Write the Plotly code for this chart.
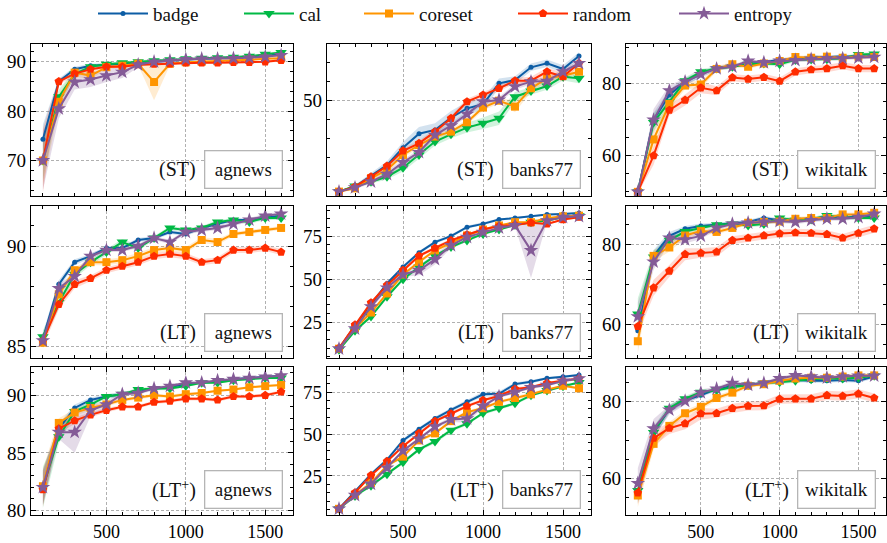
import plotly.graph_objects as go

budget = [100, 200, 300, 400, 500, 600, 700, 800, 900, 1000, 1100, 1200, 1300, 1400, 1500, 1600]
methods = ["badge", "cal", "coreset", "random", "entropy"]
settings = ["ST", "LT", "LT+"]
setting_labels = ["(ST)", "(LT)", "(LT<sup>+</sup>)"]
datasets = ["agnews", "banks77", "wikitalk"]

# ---------------- ST / agnews ----------------
st_agnews_badge = [74.3, 86.0, 88.5, 89.2, 89.4, 89.6, 89.8, 90.0, 90.3, 90.5, 90.6, 90.7, 90.8, 91.0, 91.2, 91.5]
st_agnews_cal = [70.0, 82.9, 87.5, 89.0, 89.5, 89.8, 90.0, 90.2, 90.4, 90.6, 90.7, 90.8, 90.9, 91.1, 91.5, 91.9]
st_agnews_coreset = [70.0, 81.9, 87.8, 87.2, 88.9, 89.2, 89.6, 85.9, 89.6, 89.9, 90.0, 90.1, 90.3, 90.4, 90.6, 90.7]
st_agnews_random = [70.0, 86.0, 87.6, 88.5, 89.0, 89.0, 89.4, 89.5, 89.6, 89.8, 89.8, 89.8, 89.9, 89.9, 90.0, 90.3]
st_agnews_entropy = [70.0, 80.5, 85.9, 86.4, 87.2, 87.9, 89.4, 90.0, 90.2, 90.5, 90.6, 90.6, 90.7, 90.8, 91.0, 91.3]
st_agnews_badge_sd = [3.0, 0.6, 0.5, 0.4, 0.3, 0.3, 0.3, 0.2, 0.2, 0.2, 0.2, 0.2, 0.2, 0.2, 0.2, 0.2]
st_agnews_cal_sd = [4.0, 1.5, 0.8, 0.4, 0.3, 0.3, 0.3, 0.3, 0.2, 0.2, 0.2, 0.2, 0.2, 0.2, 0.3, 0.3]
st_agnews_coreset_sd = [5.0, 1.5, 0.8, 0.8, 0.4, 0.3, 0.3, 3.7, 0.3, 0.2, 0.2, 0.2, 0.2, 0.2, 0.2, 0.2]
st_agnews_random_sd = [6.5, 0.6, 0.5, 0.4, 0.3, 0.3, 0.3, 0.3, 0.2, 0.2, 0.2, 0.2, 0.2, 0.2, 0.2, 0.3]
st_agnews_entropy_sd = [6.0, 2.0, 1.5, 1.5, 1.3, 1.2, 0.5, 0.4, 0.3, 0.3, 0.3, 0.3, 0.3, 0.3, 0.3, 0.3]

# ---------------- ST / banks77 ----------------
st_banks77_badge = [2.2, 4.8, 10.4, 16.1, 25.2, 32.5, 34.5, 40.9, 45.8, 47.9, 58.9, 60.6, 67.3, 69.4, 66.4, 73.2]
st_banks77_cal = [2.2, 5.1, 7.4, 10.0, 14.7, 21.4, 28.4, 32.2, 35.7, 38.0, 40.6, 51.9, 54.9, 57.5, 62.4, 61.5]
st_banks77_coreset = [2.2, 3.9, 9.2, 13.5, 21.4, 26.6, 31.0, 33.6, 38.5, 46.2, 49.8, 46.7, 56.3, 61.5, 62.9, 65.0]
st_banks77_random = [2.2, 4.8, 10.0, 15.6, 23.6, 27.5, 33.6, 40.6, 49.3, 52.8, 56.3, 60.3, 60.3, 65.0, 62.4, 69.4]
st_banks77_entropy = [2.2, 4.3, 7.4, 11.3, 17.5, 22.8, 31.8, 36.7, 42.8, 49.3, 50.2, 57.2, 59.8, 60.1, 65.0, 69.4]
st_banks77_badge_sd = [0.5, 0.8, 1.5, 2.0, 3.0, 3.5, 3.5, 3.5, 3.5, 3.0, 2.5, 2.0, 2.0, 2.0, 2.0, 2.0]
st_banks77_cal_sd = [0.5, 0.8, 1.0, 1.5, 2.0, 2.0, 2.0, 2.0, 2.5, 3.0, 3.5, 2.5, 2.0, 2.0, 2.0, 2.5]
st_banks77_coreset_sd = [0.5, 0.8, 1.0, 1.5, 1.5, 1.5, 1.5, 1.5, 1.5, 1.5, 1.5, 3.0, 2.0, 2.0, 1.5, 1.5]
st_banks77_random_sd = [0.5, 0.8, 1.0, 1.5, 1.5, 1.5, 1.5, 1.5, 1.5, 1.5, 1.5, 1.5, 2.0, 2.0, 2.0, 1.5]
st_banks77_entropy_sd = [0.5, 0.8, 1.0, 1.5, 1.5, 1.5, 1.5, 1.5, 1.5, 1.5, 1.5, 1.5, 1.5, 1.5, 1.5, 1.5]

# ---------------- ST / wikitalk ----------------
st_wikitalk_badge = [50.0, 69.9, 76.8, 80.5, 82.5, 84.3, 84.8, 85.3, 86.0, 86.5, 86.7, 87.4, 87.2, 87.5, 87.3, 87.6]
st_wikitalk_cal = [50.0, 69.2, 74.9, 80.7, 83.2, 84.1, 84.6, 85.3, 85.5, 85.3, 86.5, 86.6, 86.7, 86.9, 88.0, 88.1]
st_wikitalk_coreset = [50.0, 64.5, 74.3, 79.4, 79.7, 84.0, 85.3, 84.6, 85.5, 86.2, 87.3, 87.1, 87.4, 87.1, 87.4, 87.3]
st_wikitalk_random = [50.0, 60.0, 72.6, 75.4, 78.8, 78.0, 81.6, 81.2, 81.7, 80.6, 83.2, 83.8, 84.1, 84.9, 84.1, 84.1]
st_wikitalk_entropy = [50.0, 69.9, 78.0, 80.5, 82.5, 84.1, 84.6, 86.2, 85.8, 86.2, 86.4, 86.7, 86.9, 86.9, 87.1, 87.3]
st_wikitalk_badge_sd = [0.5, 2.0, 1.5, 1.0, 0.8, 0.6, 0.5, 0.5, 0.5, 0.5, 0.5, 0.5, 0.5, 0.5, 0.5, 0.5]
st_wikitalk_cal_sd = [0.5, 2.5, 1.5, 1.0, 0.8, 0.6, 0.5, 0.5, 0.5, 0.6, 0.5, 0.5, 0.5, 0.5, 0.5, 0.5]
st_wikitalk_coreset_sd = [0.5, 2.5, 1.5, 1.0, 1.0, 0.8, 0.6, 0.6, 0.5, 0.5, 0.5, 0.5, 0.5, 0.5, 0.5, 0.5]
st_wikitalk_random_sd = [0.5, 2.5, 1.5, 1.5, 1.5, 1.2, 1.0, 1.0, 1.0, 1.0, 1.0, 1.0, 1.0, 1.0, 1.0, 1.0]
st_wikitalk_entropy_sd = [0.5, 3.0, 1.5, 1.0, 0.8, 0.6, 0.5, 0.5, 0.5, 0.5, 0.5, 0.5, 0.5, 0.5, 0.5, 0.5]

# ---------------- LT / agnews ----------------
lt_agnews_badge = [85.4, 88.1, 89.2, 89.5, 89.9, 89.9, 90.3, 90.4, 90.7, 90.6, 90.9, 91.1, 91.3, 91.3, 91.4, 91.5]
lt_agnews_cal = [85.5, 87.2, 88.6, 89.2, 89.7, 90.2, 89.9, 90.4, 90.9, 90.8, 90.9, 91.2, 91.3, 91.2, 91.4, 91.4]
lt_agnews_coreset = [85.2, 87.6, 88.8, 89.2, 89.2, 89.3, 89.5, 89.8, 89.9, 89.8, 90.3, 90.2, 90.6, 90.7, 90.8, 90.9]
lt_agnews_random = [85.3, 87.1, 88.1, 88.4, 88.8, 89.0, 89.2, 89.5, 89.6, 89.5, 89.2, 89.3, 89.8, 89.8, 89.9, 89.7]
lt_agnews_entropy = [85.3, 87.9, 88.5, 89.5, 89.8, 89.8, 90.0, 90.4, 90.2, 90.7, 90.8, 90.9, 91.1, 91.3, 91.5, 91.6]
lt_agnews_badge_sd = [0.3, 0.2, 0.15, 0.1, 0.1, 0.1, 0.1, 0.1, 0.1, 0.1, 0.1, 0.1, 0.1, 0.1, 0.1, 0.1]
lt_agnews_cal_sd = [0.3, 0.3, 0.2, 0.15, 0.15, 0.15, 0.15, 0.1, 0.1, 0.1, 0.1, 0.1, 0.1, 0.1, 0.1, 0.1]
lt_agnews_coreset_sd = [0.3, 0.2, 0.15, 0.15, 0.15, 0.15, 0.15, 0.15, 0.15, 0.15, 0.15, 0.15, 0.1, 0.1, 0.1, 0.1]
lt_agnews_random_sd = [0.3, 0.25, 0.2, 0.15, 0.15, 0.15, 0.15, 0.15, 0.15, 0.15, 0.15, 0.15, 0.15, 0.15, 0.15, 0.15]
lt_agnews_entropy_sd = [0.3, 0.2, 0.15, 0.15, 0.1, 0.1, 0.1, 0.1, 0.1, 0.1, 0.1, 0.1, 0.1, 0.1, 0.1, 0.1]

# ---------------- LT / banks77 ----------------
lt_banks77_badge = [9.6, 23.1, 35.4, 47.5, 57.1, 65.4, 71.5, 75.0, 80.2, 82.1, 84.6, 85.6, 86.5, 87.5, 87.9, 88.5]
lt_banks77_cal = [9.0, 20.0, 28.3, 39.8, 50.0, 57.1, 63.5, 68.7, 72.5, 76.3, 78.8, 81.5, 83.1, 84.0, 86.0, 86.9]
lt_banks77_coreset = [9.6, 21.5, 30.6, 41.7, 52.7, 60.0, 66.7, 71.0, 75.4, 78.8, 81.2, 83.1, 83.1, 85.4, 86.5, 86.9]
lt_banks77_random = [10.0, 23.5, 36.3, 46.5, 55.2, 63.5, 68.1, 72.5, 75.8, 78.8, 80.8, 81.5, 82.7, 82.1, 84.6, 86.0]
lt_banks77_entropy = [9.6, 21.2, 34.0, 45.0, 52.7, 55.2, 61.5, 69.6, 74.4, 77.3, 79.8, 81.2, 66.7, 84.0, 86.0, 86.5]
lt_banks77_badge_sd = [0.5, 1.0, 1.0, 1.0, 1.0, 1.0, 1.0, 1.0, 0.8, 0.8, 0.6, 0.6, 0.5, 0.5, 0.5, 0.5]
lt_banks77_cal_sd = [0.5, 1.0, 1.0, 1.0, 1.0, 1.0, 1.0, 1.0, 0.8, 0.8, 0.6, 0.6, 0.5, 0.5, 0.5, 0.5]
lt_banks77_coreset_sd = [0.5, 1.0, 1.0, 1.0, 1.0, 1.0, 1.0, 1.0, 0.8, 0.8, 0.6, 0.6, 0.5, 0.5, 0.5, 0.5]
lt_banks77_random_sd = [0.5, 1.0, 1.0, 1.0, 1.0, 1.0, 1.0, 1.0, 0.8, 0.8, 0.6, 0.6, 0.5, 0.5, 0.5, 0.5]
lt_banks77_entropy_sd = [0.5, 1.0, 1.5, 1.5, 1.5, 3.0, 3.0, 1.5, 1.0, 0.8, 0.6, 0.6, 16.0, 0.8, 0.5, 0.5]

# ---------------- LT / wikitalk ----------------
lt_wikitalk_badge = [58.3, 77.1, 82.1, 83.9, 84.6, 84.9, 85.3, 85.6, 86.6, 86.0, 86.2, 86.4, 86.6, 86.6, 87.0, 87.1]
lt_wikitalk_cal = [62.5, 76.8, 81.0, 83.2, 84.1, 84.9, 85.1, 84.7, 85.1, 86.6, 86.0, 86.2, 87.2, 86.8, 86.6, 86.6]
lt_wikitalk_coreset = [55.7, 77.1, 79.2, 82.2, 83.3, 83.1, 84.1, 85.4, 85.6, 85.7, 86.4, 86.6, 86.6, 87.5, 87.5, 87.9]
lt_wikitalk_random = [59.4, 69.1, 73.3, 77.5, 77.8, 78.1, 81.0, 81.6, 82.2, 82.7, 82.9, 82.8, 82.5, 81.6, 82.8, 83.9]
lt_wikitalk_entropy = [61.9, 75.6, 81.6, 81.2, 82.1, 84.1, 85.1, 85.4, 85.6, 85.8, 85.6, 86.0, 86.4, 86.4, 86.8, 87.6]
lt_wikitalk_badge_sd = [3.0, 1.5, 1.0, 0.7, 0.6, 0.5, 0.5, 0.5, 0.5, 0.5, 0.5, 0.5, 0.5, 0.5, 0.5, 0.5]
lt_wikitalk_cal_sd = [4.0, 1.5, 1.0, 0.7, 0.6, 0.5, 0.5, 0.5, 0.5, 0.5, 0.5, 0.5, 0.5, 0.5, 0.5, 0.5]
lt_wikitalk_coreset_sd = [3.0, 1.5, 1.0, 0.8, 0.7, 0.6, 0.5, 0.5, 0.5, 0.5, 0.5, 0.5, 0.5, 0.5, 0.5, 0.5]
lt_wikitalk_random_sd = [2.0, 2.0, 1.5, 1.5, 1.2, 1.2, 1.0, 1.0, 1.0, 1.0, 1.0, 1.0, 1.0, 1.0, 1.0, 1.0]
lt_wikitalk_entropy_sd = [3.5, 2.0, 1.2, 1.0, 0.8, 0.6, 0.5, 0.5, 0.5, 0.5, 0.5, 0.5, 0.5, 0.5, 0.5, 0.5]

# ---------------- LT+ / agnews ----------------
ltp_agnews_badge = [82.0, 87.1, 88.9, 89.6, 89.9, 90.1, 90.3, 90.6, 90.7, 91.0, 91.1, 91.2, 91.4, 91.5, 91.6, 91.7]
ltp_agnews_cal = [82.0, 86.4, 88.6, 89.2, 89.9, 90.1, 90.5, 90.6, 90.6, 90.8, 91.1, 91.1, 91.3, 91.4, 91.5, 91.5]
ltp_agnews_coreset = [82.1, 87.6, 88.5, 88.9, 89.2, 89.6, 89.8, 90.0, 89.9, 90.1, 90.2, 90.4, 90.5, 90.7, 90.8, 90.9]
ltp_agnews_random = [81.8, 87.1, 87.8, 88.3, 88.7, 89.0, 89.0, 89.4, 89.5, 89.7, 89.7, 89.6, 89.9, 89.9, 90.0, 90.3]
ltp_agnews_entropy = [82.0, 86.8, 86.8, 88.7, 89.2, 90.1, 90.2, 90.6, 90.8, 91.1, 91.1, 91.3, 91.4, 91.5, 91.6, 91.7]
ltp_agnews_badge_sd = [1.5, 0.4, 0.3, 0.2, 0.2, 0.15, 0.15, 0.15, 0.1, 0.1, 0.1, 0.1, 0.1, 0.1, 0.1, 0.1]
ltp_agnews_cal_sd = [1.8, 0.6, 0.3, 0.2, 0.2, 0.15, 0.15, 0.15, 0.15, 0.1, 0.1, 0.1, 0.1, 0.1, 0.1, 0.1]
ltp_agnews_coreset_sd = [1.5, 0.4, 0.3, 0.2, 0.2, 0.15, 0.15, 0.15, 0.15, 0.15, 0.1, 0.1, 0.1, 0.1, 0.1, 0.1]
ltp_agnews_random_sd = [1.5, 0.4, 0.3, 0.2, 0.2, 0.15, 0.15, 0.15, 0.15, 0.15, 0.15, 0.15, 0.15, 0.15, 0.15, 0.15]
ltp_agnews_entropy_sd = [1.5, 0.6, 1.8, 0.5, 0.3, 0.2, 0.15, 0.15, 0.15, 0.1, 0.1, 0.1, 0.1, 0.1, 0.1, 0.1]

# ---------------- LT+ / banks77 ----------------
ltp_banks77_badge = [5.4, 15.4, 26.0, 34.6, 46.2, 52.9, 59.2, 64.4, 69.2, 73.7, 74.0, 79.8, 81.2, 83.3, 84.2, 85.2]
ltp_banks77_cal = [5.4, 13.1, 19.2, 26.0, 33.1, 40.8, 45.6, 52.3, 56.2, 62.5, 65.4, 68.3, 73.1, 76.0, 78.5, 80.8]
ltp_banks77_coreset = [5.4, 13.8, 20.8, 31.2, 36.5, 46.2, 50.4, 57.7, 63.1, 65.4, 69.2, 71.5, 73.7, 76.5, 78.8, 77.3]
ltp_banks77_random = [5.4, 15.0, 25.4, 33.7, 42.7, 50.4, 57.7, 62.1, 66.7, 70.2, 72.7, 76.9, 77.9, 80.4, 81.7, 83.1]
ltp_banks77_entropy = [5.4, 13.5, 20.2, 29.8, 40.0, 47.1, 54.4, 58.7, 59.2, 66.7, 72.5, 75.0, 77.9, 79.2, 81.7, 83.1]
ltp_banks77_badge_sd = [0.5, 0.8, 1.0, 1.2, 1.2, 1.2, 1.2, 1.2, 1.2, 1.5, 1.5, 1.0, 1.0, 0.8, 0.8, 0.8]
ltp_banks77_cal_sd = [0.5, 0.8, 1.0, 1.0, 1.0, 1.0, 1.2, 1.2, 1.0, 1.0, 1.0, 1.0, 1.0, 0.8, 0.8, 0.8]
ltp_banks77_coreset_sd = [0.5, 0.8, 1.0, 1.0, 1.0, 1.0, 1.0, 1.0, 1.0, 1.0, 1.0, 1.0, 1.0, 0.8, 0.8, 0.8]
ltp_banks77_random_sd = [0.5, 0.8, 1.0, 1.0, 1.0, 1.0, 1.0, 1.0, 1.0, 1.0, 1.0, 1.0, 1.0, 0.8, 0.8, 0.8]
ltp_banks77_entropy_sd = [0.5, 0.8, 1.0, 1.0, 1.0, 1.0, 1.0, 1.5, 2.5, 1.0, 1.0, 1.0, 1.0, 0.8, 0.8, 0.8]

# ---------------- LT+ / wikitalk ----------------
ltp_wikitalk_badge = [56.4, 72.0, 78.1, 80.4, 81.7, 83.4, 84.1, 84.4, 84.9, 85.5, 85.7, 85.5, 85.5, 85.7, 85.5, 86.6]
ltp_wikitalk_cal = [56.8, 72.0, 78.3, 80.8, 82.5, 83.0, 83.8, 84.4, 84.9, 85.1, 85.5, 85.9, 86.1, 86.1, 86.3, 86.8]
ltp_wikitalk_coreset = [55.5, 69.0, 73.7, 77.0, 78.7, 81.0, 82.4, 84.2, 84.6, 85.5, 86.1, 86.3, 86.3, 86.6, 86.9, 86.9]
ltp_wikitalk_random = [56.2, 70.5, 73.1, 74.3, 76.9, 77.0, 78.3, 78.9, 79.0, 80.7, 80.8, 80.8, 81.7, 81.5, 82.1, 81.0]
ltp_wikitalk_entropy = [58.7, 73.0, 77.9, 80.2, 82.4, 83.4, 84.9, 84.4, 84.9, 86.1, 86.9, 86.6, 86.3, 86.6, 86.8, 86.8]
ltp_wikitalk_badge_sd = [3.0, 1.5, 1.0, 0.8, 0.6, 0.5, 0.5, 0.5, 0.5, 0.5, 0.5, 0.5, 0.5, 0.5, 0.5, 0.5]
ltp_wikitalk_cal_sd = [3.0, 1.5, 1.0, 0.8, 0.6, 0.5, 0.5, 0.5, 0.5, 0.5, 0.5, 0.5, 0.5, 0.5, 0.5, 0.5]
ltp_wikitalk_coreset_sd = [3.0, 1.5, 1.0, 0.8, 0.8, 0.7, 0.6, 0.5, 0.5, 0.5, 0.5, 0.5, 0.5, 0.5, 0.5, 0.5]
ltp_wikitalk_random_sd = [3.0, 2.0, 1.5, 1.5, 1.5, 1.2, 1.2, 1.2, 1.2, 1.2, 1.2, 1.2, 1.2, 1.2, 1.2, 1.2]
ltp_wikitalk_entropy_sd = [4.0, 2.5, 1.2, 1.0, 0.8, 0.6, 0.5, 0.5, 0.5, 0.5, 0.5, 0.5, 0.5, 0.5, 0.5, 0.5]

# y-axis settings per panel (row-major: ST, LT, LT+ x agnews, banks77, wikitalk)
y_ranges = [[62.8, 93.6], [-0.1, 79.5], [48.85, 90.9],
            [84.44, 91.99], [4.2, 92.5], [51.5, 89.6],
            [79.6, 92.46], [1.7, 90.0], [50.4, 89.1]]
y_ticks = [[70, 80, 90], [50], [60, 80],
           [85, 90], [25, 50, 75], [60, 80],
           [80, 85, 90], [25, 50, 75], [60, 80]]
y_minor = [2, 10, 5, 1, 5, 5, 1, 5, 5]
x_ticks = [500, 1000, 1500]

# ---------------- styling ----------------
colors = {"badge": "#0C5DA5", "cal": "#00B945", "coreset": "#FF9500",
          "random": "#FF2C00", "entropy": "#845B97"}
fills = {"badge": "rgba(12,93,165,0.18)", "cal": "rgba(0,185,69,0.18)",
         "coreset": "rgba(255,149,0,0.18)", "random": "rgba(255,44,0,0.18)",
         "entropy": "rgba(132,91,151,0.22)"}
symbols = {"badge": "circle", "cal": "triangle-down", "coreset": "square",
           "random": "pentagon", "entropy": "star"}
msizes = {"badge": 5, "cal": 10, "coreset": 8, "random": 9, "entropy": 11}
FONT = "Liberation Serif, Times New Roman, serif"
W, H = 887, 543
col_px = [(31, 293), (327, 591), (626, 886)]
row_px = [(44, 196), (206, 358), (367, 515)]
legend_px = [93, 239, 359, 513, 674]

g = globals()
prefixes = ["st", "lt", "ltp"]

fig = go.Figure()
layout = {}
annotations = []

for r in range(3):
    for c in range(3):
        k = r * 3 + c
        xn = "x" if k == 0 else f"x{k + 1}"
        yn = "y" if k == 0 else f"y{k + 1}"
        base = f"{prefixes[r]}_{datasets[c]}"
        # bands first
        for m in methods:
            mean = g[f"{base}_{m}"]
            sd = g[f"{base}_{m}_sd"]
            up = [a + b for a, b in zip(mean, sd)]
            lo = [a - b for a, b in zip(mean, sd)]
            fig.add_trace(go.Scatter(
                x=budget + budget[::-1], y=up + lo[::-1], fill="toself",
                fillcolor=fills[m], line=dict(width=0), mode="lines",
                hoverinfo="skip", showlegend=False, xaxis=xn, yaxis=yn))
        for i, m in enumerate(methods):
            mean = g[f"{base}_{m}"]
            fig.add_trace(go.Scatter(
                x=budget, y=mean, mode="lines+markers", name=m,
                line=dict(color=colors[m], width=2),
                marker=dict(symbol=symbols[m], size=msizes[m], color=colors[m],
                            line=dict(width=0)),
                showlegend=(k == 0),
                legend="legend" if i == 0 else f"legend{i + 1}",
                xaxis=xn, yaxis=yn))
        xd = [col_px[c][0] / W, col_px[c][1] / W]
        yd = [1 - row_px[r][1] / H, 1 - row_px[r][0] / H]
        common = dict(showline=True, linecolor="black", linewidth=1.2, mirror="ticks",
                      ticks="inside", ticklen=5, tickwidth=1, tickcolor="black",
                      showgrid=True, gridcolor="#b0b0b0", gridwidth=0.7,
                      griddash="3px,2px", zeroline=False, automargin=False,
                      tickfont=dict(family=FONT, size=19, color="black"))
        layout["xaxis" if k == 0 else f"xaxis{k + 1}"] = dict(
            common, domain=xd, anchor=yn, range=[25, 1675], tickmode="array",
            tickvals=x_ticks, showticklabels=(r == 2),
            tickfont=dict(family=FONT, size=18, color="black"),
            minor=dict(ticks="inside", ticklen=2.5, tickwidth=0.8, tickcolor="black",
                       tickmode="linear", tick0=0, dtick=100, showgrid=False))
        layout["yaxis" if k == 0 else f"yaxis{k + 1}"] = dict(
            common, domain=yd, anchor=xn, range=y_ranges[k], tickmode="array",
            tickvals=y_ticks[k],
            minor=dict(ticks="inside", ticklen=2.5, tickwidth=0.8, tickcolor="black",
                       tickmode="linear", tick0=0, dtick=y_minor[k], showgrid=False))
        annotations.append(dict(
            text=datasets[c], xref=f"{xn} domain", yref=f"{yn} domain",
            x=1, y=0, xanchor="right", yanchor="middle", xshift=-10, yshift=26,
            showarrow=False, font=dict(family=FONT, size=19, color="#111"),
            bordercolor="#b5b5b5", borderwidth=1.3, borderpad=6,
            width=64, height=24, bgcolor="white"))
        annotations.append(dict(
            text=setting_labels[r], xref=f"{xn} domain", yref=f"{yn} domain",
            x=1, y=0, xanchor="right", yanchor="middle", xshift=-95, yshift=26,
            showarrow=False, font=dict(family=FONT, size=20, color="#111")))

for i in range(5):
    key = "legend" if i == 0 else f"legend{i + 1}"
    layout[key] = dict(x=legend_px[i] / W, xanchor="left", y=1.01, yanchor="top",
                       orientation="h", itemwidth=50, bgcolor="rgba(0,0,0,0)",
                       font=dict(family=FONT, size=19, color="#111"))

fig.update_layout(**layout)
fig.update_layout(width=W, height=H,
                  margin=dict(l=0, r=0, t=0, b=0, autoexpand=False),
                  paper_bgcolor="white", plot_bgcolor="white",
                  annotations=annotations, font=dict(family=FONT, size=19))
fig.write_html("out.html")
